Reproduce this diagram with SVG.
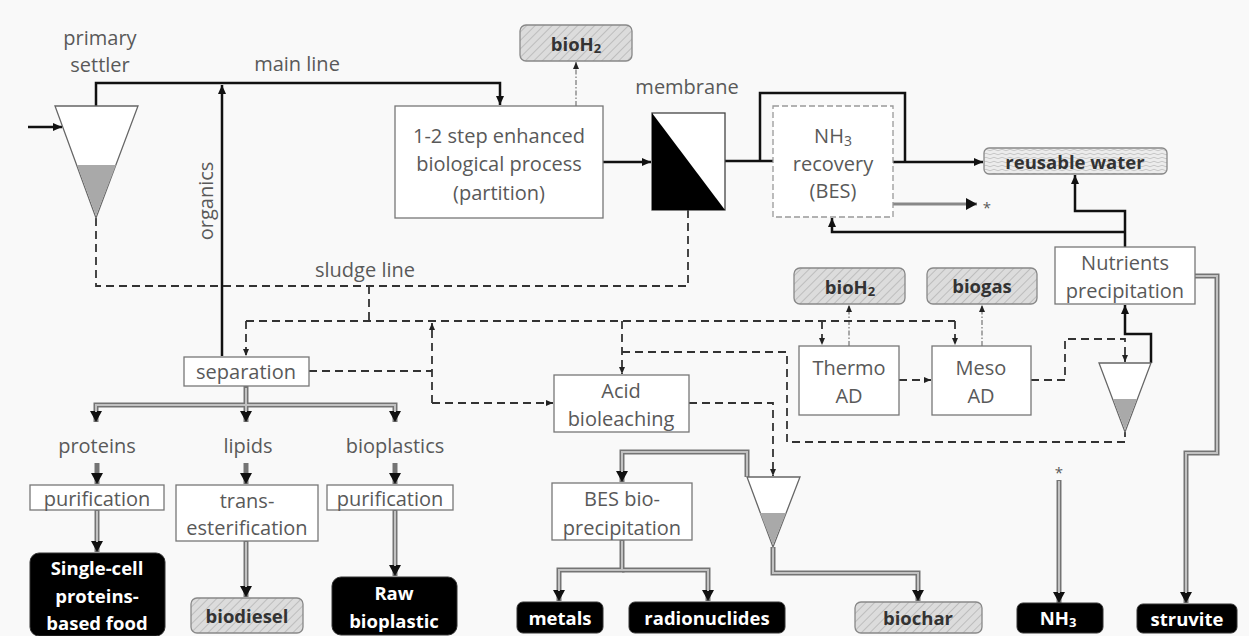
<svg xmlns="http://www.w3.org/2000/svg" width="1249" height="636" viewBox="0 0 1249 636">
<defs>
<style>
.t{font-family:"Open Sans","Liberation Sans",sans-serif;font-size:20px;fill:#595959;text-anchor:middle;dominant-baseline:central}
.b{font-family:"Open Sans","Liberation Sans",sans-serif;font-size:18.5px;font-weight:bold;fill:#333;text-anchor:middle;dominant-baseline:central}
.w{font-family:"Open Sans","Liberation Sans",sans-serif;font-size:18.5px;font-weight:bold;fill:#fff;text-anchor:middle;dominant-baseline:central}
.box{fill:#fff;stroke:#777;stroke-width:1.3}
.dbox{fill:#fff;stroke:#999;stroke-width:1.3;stroke-dasharray:6,3}
.hat{fill:url(#hatch);stroke:#888;stroke-width:1.3}
.wav{fill:url(#wave);stroke:#888;stroke-width:1.3}
.blk{fill:#000;stroke:#333;stroke-width:1}
.solid{fill:none;stroke:#111;stroke-width:2.5}
.dash{fill:none;stroke:#333;stroke-width:1.8;stroke-dasharray:8,5}
.dd{fill:none;stroke:#888;stroke-width:1.4;stroke-dasharray:5,2,1.5,2}
.dbl{fill:none;stroke:#747474;stroke-width:5}
.dbi{fill:none;stroke:#c2c2c2;stroke-width:2}
.gr{fill:none;stroke:#888;stroke-width:3}
.settler{fill:#fff;stroke:#666;stroke-width:1.3}
.mud{fill:#a9a9a9}
</style>
<pattern id="hatch" width="6" height="6" patternUnits="userSpaceOnUse" patternTransform="rotate(45)">
<rect width="6" height="6" fill="#dcdcdc"/>
<line x1="0" y1="0" x2="0" y2="6" stroke="#a8a8a8" stroke-width="1.2"/>
</pattern>
<pattern id="wave" width="8" height="4" patternUnits="userSpaceOnUse">
<rect width="8" height="4" fill="#ececec"/>
<path d="M0,2 Q2,0.5 4,2 T8,2" fill="none" stroke="#bdbdbd" stroke-width="0.8"/>
</pattern>
<marker id="a" markerUnits="userSpaceOnUse" markerWidth="10" markerHeight="10" refX="9" refY="5" orient="auto">
<path d="M0,1 L9,5 L0,9 z" fill="#111"/>
</marker>
<marker id="s" markerUnits="userSpaceOnUse" markerWidth="8" markerHeight="8" refX="7" refY="4" orient="auto">
<path d="M0,1 L7,4 L0,7 z" fill="#222"/>
</marker>
<marker id="g" markerUnits="userSpaceOnUse" markerWidth="14" markerHeight="14" refX="11" refY="7" orient="auto">
<path d="M0,1 L11,7 L0,13 z" fill="#111"/>
</marker>
</defs>
<rect x="0" y="0" width="1249" height="636" fill="#f9f9f9"/>

<g id="connectors">
<!-- solid black -->
<path class="solid" d="M28,127 L62,127" marker-end="url(#a)"/>
<path class="solid" d="M96,106 L96,83 L500,83 L500,105" marker-end="url(#a)"/>
<path class="solid" d="M222,356 L222,85" marker-end="url(#a)"/>
<path class="solid" d="M603,162 L651,162" marker-end="url(#a)"/>
<path class="solid" d="M725,161 L773,161 M760,161 L760,93 L905,93 L905,162"/>
<path class="solid" d="M893,162 L983,162" marker-end="url(#a)"/>
<path class="solid" d="M1125,247 L1125,211 L1075,211 L1075,175" marker-end="url(#a)"/>
<path class="solid" d="M1125,232 L832,232 L832,218" marker-end="url(#a)"/>
<path class="solid" d="M1151,363 L1151,334 L1125,334 L1125,305" marker-end="url(#a)"/>
<path class="gr" d="M893,204 L977,204" marker-end="url(#g)"/>
<!-- dash-dot gas -->
<path class="dd" d="M576,106 L576,62" marker-end="url(#s)"/>
<path class="dd" d="M849,346 L849,305" marker-end="url(#s)"/>
<path class="dd" d="M982,346 L982,305" marker-end="url(#s)"/>
<!-- dashed sludge -->
<path class="dash" d="M688,210 L688,286 L96,286 L96,218"/>
<path class="dash" d="M369,286 L369,321"/>
<path class="dash" d="M246,321 L955,321"/>
<path class="dash" d="M246,321 L246,356" marker-end="url(#s)"/>
<path class="dash" d="M822,321 L822,345" marker-end="url(#s)"/>
<path class="dash" d="M955,321 L955,345" marker-end="url(#s)"/>
<path class="dash" d="M309,371 L432,371"/>
<path class="dash" d="M432,403 L432,323" marker-end="url(#s)"/>
<path class="dash" d="M432,403 L553,403" marker-end="url(#s)"/>
<path class="dash" d="M622,321 L622,374" marker-end="url(#s)"/>
<path class="dash" d="M622,352 L787,352 L787,442 L1125,442 L1125,432"/>
<path class="dash" d="M689,403 L773,403 L773,476" marker-end="url(#s)"/>
<path class="dash" d="M899,380 L931,380" marker-end="url(#s)"/>
<path class="dash" d="M1031,380 L1065,380 L1065,339 L1125,339 L1125,362" marker-end="url(#s)"/>
<!-- grey double product lines -->
<path class="dbl" d="M246,386 L246,422" marker-end="url(#g)"/>
<path class="dbl" d="M246,405 L96,405 L96,422" marker-end="url(#g)"/>
<path class="dbl" d="M246,405 L395,405 L395,422" marker-end="url(#g)"/>
<path class="dbi" d="M246,388 L246,412 M246,405 L96,405 L96,412 M246,405 L395,405 L395,412"/>
<path class="dbl" d="M97,463 L97,484" marker-end="url(#g)"/>
<path class="dbl" d="M246,463 L246,484" marker-end="url(#g)"/>
<path class="dbl" d="M395,463 L395,484" marker-end="url(#g)"/>
<path class="dbl" d="M97,510 L97,552" marker-end="url(#g)"/>
<path class="dbl" d="M246,541 L246,597" marker-end="url(#g)"/>
<path class="dbl" d="M395,510 L395,576" marker-end="url(#g)"/>
<path class="dbi" d="M97,511 L97,542 M246,542 L246,587 M395,511 L395,566"/>
<path class="dbl" d="M747,477 L747,452 L622,452 L622,482" marker-end="url(#g)"/>
<path class="dbi" d="M747,477 L747,452 L622,452 L622,472"/>
<path class="dbl" d="M773,547 L773,573 L918,573 L918,601" marker-end="url(#g)"/>
<path class="dbi" d="M773,547 L773,573 L918,573 L918,591"/>
<path class="dbl" d="M622,540 L622,570 L559,570 L559,601" marker-end="url(#g)"/>
<path class="dbl" d="M622,570 L708,570 L708,601" marker-end="url(#g)"/>
<path class="dbi" d="M622,541 L622,570 L559,570 L559,591 M622,570 L708,570 L708,591"/>
<path class="dbl" d="M1195,276 L1217,276 L1217,453 L1186,453 L1186,603" marker-end="url(#g)"/>
<path class="dbi" d="M1195,276 L1217,276 L1217,453 L1186,453 L1186,593"/>
<path class="dbl" d="M1059,480 L1059,603" marker-end="url(#g)"/>
<path class="dbi" d="M1059,481 L1059,593"/>
</g>

<g id="labels">
<text class="t" x="100" y="37">primary</text>
<text class="t" x="100" y="64">settler</text>
<text class="t" x="297" y="63">main line</text>
<text class="t" x="687" y="86">membrane</text>
<text class="t" x="365" y="269">sludge line</text>
<text class="t" transform="translate(205,201) rotate(-90)">organics</text>
<text class="t" x="97" y="445">proteins</text>
<text class="t" x="248" y="445">lipids</text>
<text class="t" x="395" y="445">bioplastics</text>
<text class="t" x="987" y="207" style="font-size:15px">*</text>
<text class="t" x="1059" y="472" style="font-size:15px">*</text>
</g>

<g id="primary-settler">
<polygon class="settler" points="55,106 138,106 96,218"/>
<polygon class="mud" points="77,165 116,165 96,216"/>
</g>

<g id="process">
<rect class="box" x="395" y="106" width="208" height="112"/>
<text class="t" x="499" y="135">1-2 step enhanced</text>
<text class="t" x="499" y="163">biological process</text>
<text class="t" x="499" y="192">(partition)</text>
</g>

<g id="bioH2-top">
<rect class="hat" x="520" y="25" width="112" height="36" rx="6"/>
<text class="b" x="576" y="43">bioH<tspan style="font-size:13px" dy="5">2</tspan></text>
</g>

<g id="membrane">
<rect x="652" y="113" width="73" height="97" fill="#fff" stroke="#444" stroke-width="1.3"/>
<polygon points="652,113 725,210 652,210" fill="#000"/>
</g>

<g id="nh3-recovery">
<rect class="dbox" x="773" y="106" width="120" height="111"/>
<text class="t" x="833" y="135">NH<tspan style="font-size:14px" dy="5">3</tspan></text>
<text class="t" x="833" y="163">recovery</text>
<text class="t" x="833" y="190">(BES)</text>
</g>

<g id="reusable-water">
<rect class="wav" x="984" y="148" width="183" height="26" rx="5"/>
<text class="b" x="1075" y="161">reusable water</text>
</g>

<g id="nutrients">
<rect class="box" x="1055" y="247" width="140" height="57"/>
<text class="t" x="1125" y="262">Nutrients</text>
<text class="t" x="1125" y="290">precipitation</text>
</g>

<g id="bioH2-ad">
<rect class="hat" x="794" y="268" width="111" height="36" rx="6"/>
<text class="b" x="850" y="286">bioH<tspan style="font-size:13px" dy="5">2</tspan></text>
</g>

<g id="biogas">
<rect class="hat" x="927" y="268" width="110" height="36" rx="6"/>
<text class="b" x="982" y="285">biogas</text>
</g>

<g id="thermo-ad">
<rect class="box" x="799" y="346" width="100" height="69"/>
<text class="t" x="849" y="367">Thermo</text>
<text class="t" x="849" y="395">AD</text>
</g>

<g id="meso-ad">
<rect class="box" x="932" y="346" width="99" height="69"/>
<text class="t" x="981" y="367">Meso</text>
<text class="t" x="981" y="395">AD</text>
</g>

<g id="settler-3">
<polygon class="settler" points="1099,363 1151,363 1125,432"/>
<polygon class="mud" points="1113,399 1137,399 1125,430"/>
</g>

<g id="separation">
<rect class="box" x="184" y="357" width="125" height="29"/>
<text class="t" x="246" y="371">separation</text>
</g>

<g id="acid-bioleaching">
<rect class="box" x="554" y="375" width="135" height="57"/>
<text class="t" x="621" y="390">Acid</text>
<text class="t" x="621" y="418">bioleaching</text>
</g>

<g id="settler-2">
<polygon class="settler" points="747,477 800,477 773,547"/>
<polygon class="mud" points="760,513 786,513 773,545"/>
</g>

<g id="bes">
<rect class="box" x="552" y="483" width="140" height="57"/>
<text class="t" x="622" y="498">BES bio-</text>
<text class="t" x="622" y="527">precipitation</text>
</g>

<g id="purification-1">
<rect class="box" x="30" y="485" width="134" height="25"/>
<text class="t" x="97" y="498">purification</text>
</g>

<g id="transesterification">
<rect class="box" x="176" y="485" width="142" height="56"/>
<text class="t" x="247" y="500">trans-</text>
<text class="t" x="247" y="527">esterification</text>
</g>

<g id="purification-2">
<rect class="box" x="327" y="485" width="126" height="25"/>
<text class="t" x="390" y="498">purification</text>
</g>

<g id="single-cell">
<rect class="blk" x="30" y="553" width="135" height="83" rx="9"/>
<text class="w" x="97" y="567">Single-cell</text>
<text class="w" x="97" y="595">proteins-</text>
<text class="w" x="97" y="622">based food</text>
</g>

<g id="biodiesel">
<rect class="hat" x="191" y="598" width="112" height="35" rx="6"/>
<text class="b" x="247" y="615">biodiesel</text>
</g>

<g id="raw-bioplastic">
<rect class="blk" x="332" y="577" width="125" height="58" rx="9"/>
<text class="w" x="394" y="592">Raw</text>
<text class="w" x="394" y="620">bioplastic</text>
</g>

<g id="metals">
<rect class="blk" x="517" y="602" width="86" height="31" rx="6"/>
<text class="w" x="560" y="617">metals</text>
</g>

<g id="radionuclides">
<rect class="blk" x="629" y="602" width="156" height="31" rx="6"/>
<text class="w" x="707" y="617">radionuclides</text>
</g>

<g id="biochar">
<rect class="hat" x="855" y="602" width="127" height="31" rx="6"/>
<text class="b" x="918" y="617">biochar</text>
</g>

<g id="nh3">
<rect class="blk" x="1017" y="603" width="86" height="30" rx="6"/>
<text class="w" x="1058" y="617">NH<tspan style="font-size:13px" dy="5">3</tspan></text>
</g>

<g id="struvite">
<rect class="blk" x="1137" y="604" width="100" height="29" rx="6"/>
<text class="w" x="1187" y="618">struvite</text>
</g>
</svg>
